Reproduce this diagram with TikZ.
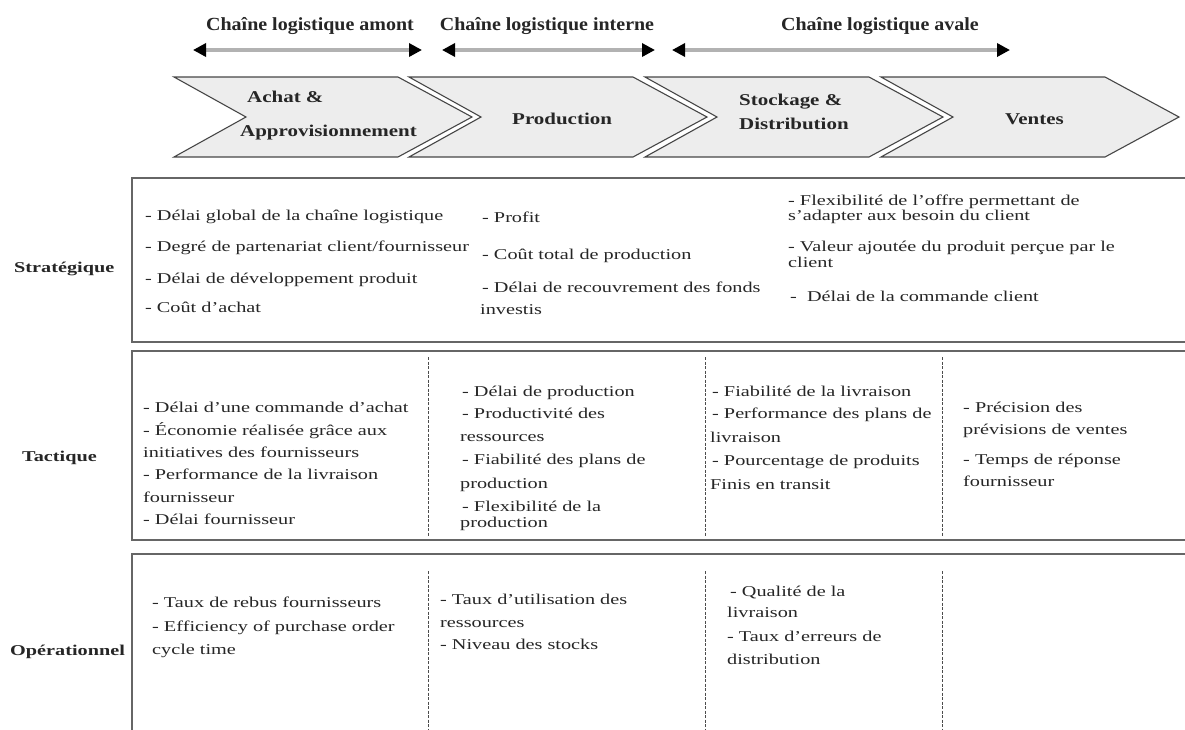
\documentclass[tikz,border=0pt]{standalone}
\usepackage{fontspec}
\setmainfont{Liberation Serif}
\newfontfamily\bodyf[FakeStretch=1.35]{Liberation Serif}
\newfontfamily\chevf[FakeStretch=1.27]{Liberation Serif}
\newfontfamily\headf[FakeStretch=1.08]{Liberation Serif}
\usetikzlibrary{arrows.meta}
\tikzset{
  txt/.style={anchor=base west, inner sep=0pt, text=black!85, font=\bodyf\fontsize{15}{18}\selectfont},
  lbl/.style={anchor=base west, inner sep=0pt, text=black!85, font=\bodyf\bfseries\fontsize{15}{18}\selectfont},
  chevtxt/.style={anchor=base west, inner sep=0pt, text=black!85, font=\chevf\bfseries\fontsize{16.5}{20}\selectfont},
  headtxt/.style={anchor=base, inner sep=0pt, text=black!85, font=\headf\bfseries\fontsize{18.5}{22}\selectfont},
  chev/.style={draw=black!72, fill=gray!14, line width=1.1pt, line join=miter},
  panel/.style={draw=black!60, line width=2.2pt},
  divider/.style={draw=black!70, line width=0.9pt, dash pattern=on 3pt off 1.5pt},
  span/.style={draw=gray!60, line width=3.5pt,
    {Triangle[length=13pt,width=13pt,color=black]}-{Triangle[length=13pt,width=13pt,color=black]}}
}
\begin{document}
\begin{tikzpicture}[x=1pt,y=-1pt]
\useasboundingbox (0,0) rectangle (1185,729);
\clip (0,0) rectangle (1185,729);
\fill[white] (0,0) rectangle (1185,729);

% header labels and spans
\node[headtxt] (h1) at (310,30) {Chaîne logistique amont};
\node[headtxt] (h2) at (547,30) {Chaîne logistique interne};
\node[headtxt] (h3) at (880,30) {Chaîne logistique avale};
\coordinate (a1l) at (193,50); \coordinate (a1r) at (422,50);
\coordinate (a2l) at (442,50); \coordinate (a2r) at (655,50);
\coordinate (a3l) at (672,50); \coordinate (a3r) at (1010,50);
\draw[span] (a1l) -- (a1r);
\draw[span] (a2l) -- (a2r);
\draw[span] (a3l) -- (a3r);

% chevrons
\foreach \L in {174,409,645,881}{
  \draw[chev] (\L,77) -- (\L+224,77) -- (\L+298,117) -- (\L+224,157) -- (\L,157) -- (\L+72,117) -- cycle;
}
\node[chevtxt] (c1a) at (247,102) {Achat \&};
\node[chevtxt] (c1b) at (240,136) {Approvisionnement};
\node[chevtxt] (c2) at (512,124) {Production};
\node[chevtxt] (c3a) at (739,105) {Stockage \&};
\node[chevtxt] (c3b) at (739,129) {Distribution};
\node[chevtxt] (c4) at (1005,124) {Ventes};

% panels
\draw[panel] (132,178) rectangle (1195,342);
\draw[panel] (132,351) rectangle (1195,540);
\draw[panel] (132,554) rectangle (1195,745);

\coordinate (t1a) at (428,357); \coordinate (t1b) at (428,536);
\coordinate (t2a) at (705,357); \coordinate (t2b) at (705,536);
\coordinate (t3a) at (942,357); \coordinate (t3b) at (942,536);
\draw[divider] (t1a) -- (t1b);
\draw[divider] (t2a) -- (t2b);
\draw[divider] (t3a) -- (t3b);
\coordinate (o1a) at (428,571); \coordinate (o1b) at (428,735);
\coordinate (o2a) at (705,571); \coordinate (o2b) at (705,735);
\coordinate (o3a) at (942,571); \coordinate (o3b) at (942,735);
\draw[divider] (o1a) -- (o1b);
\draw[divider] (o2a) -- (o2b);
\draw[divider] (o3a) -- (o3b);

% row labels
\node[lbl] (rs) at (14,272) {Stratégique};
\node[lbl] (rt) at (22,461) {Tactique};
\node[lbl] (ro) at (10,655) {Opérationnel};

% strategic
\node[txt] (s11) at (145,220) {- Délai global de la chaîne logistique};
\node[txt] (s12) at (145,251) {- Degré de partenariat client/fournisseur};
\node[txt] (s13) at (145,283) {- Délai de développement produit};
\node[txt] (s14) at (145,312) {- Coût d’achat};
\node[txt] (s21) at (482,222) {- Profit};
\node[txt] (s22) at (482,259) {- Coût total de production};
\node[txt] (s23) at (482,292) {- Délai de recouvrement des fonds};
\node[txt] (s24) at (480,314) {investis};
\node[txt] (s31) at (788,205) {- Flexibilité de l’offre permettant de};
\node[txt] (s32) at (788,220) {s’adapter aux besoin du client};
\node[txt] (s33) at (788,251) {- Valeur ajoutée du produit perçue par le};
\node[txt] (s34) at (788,267) {client};
\node[txt] (s35) at (790,301) {- \ Délai de la commande client};

% tactical
\node[txt] (t11) at (143,412) {- Délai d’une commande d’achat};
\node[txt] (t12) at (143,435) {- Économie réalisée grâce aux};
\node[txt] (t13) at (143,457) {initiatives des fournisseurs};
\node[txt] (t14) at (143,479) {- Performance de la livraison};
\node[txt] (t15) at (143,502) {fournisseur};
\node[txt] (t16) at (143,524) {- Délai fournisseur};
\node[txt] (t21) at (462,396) {- Délai de production};
\node[txt] (t22) at (462,418) {- Productivité des};
\node[txt] (t23) at (460,441) {ressources};
\node[txt] (t24) at (462,464) {- Fiabilité des plans de};
\node[txt] (t25) at (460,488) {production};
\node[txt] (t26) at (462,511) {- Flexibilité de la};
\node[txt] (t27) at (460,527) {production};
\node[txt] (t31) at (712,396) {- Fiabilité de la livraison};
\node[txt] (t32) at (712,418) {- Performance des plans de};
\node[txt] (t33) at (710,442) {livraison};
\node[txt] (t34) at (712,465) {- Pourcentage de produits};
\node[txt] (t35) at (710,489) {Finis en transit};
\node[txt] (t41) at (963,412) {- Précision des};
\node[txt] (t42) at (963,434) {prévisions de ventes};
\node[txt] (t43) at (963,464) {- Temps de réponse};
\node[txt] (t44) at (963,486) {fournisseur};

% operational
\node[txt] (o11) at (152,607) {- Taux de rebus fournisseurs};
\node[txt] (o12) at (152,631) {- Efficiency of purchase order};
\node[txt] (o13) at (152,654) {cycle time};
\node[txt] (o21) at (440,604) {- Taux d’utilisation des};
\node[txt] (o22) at (440,627) {ressources};
\node[txt] (o23) at (440,649) {- Niveau des stocks};
\node[txt] (o31) at (730,596) {- Qualité de la};
\node[txt] (o32) at (727,617) {livraison};
\node[txt] (o33) at (727,641) {- Taux d’erreurs de};
\node[txt] (o34) at (727,664) {distribution};
\end{tikzpicture}
\end{document}
